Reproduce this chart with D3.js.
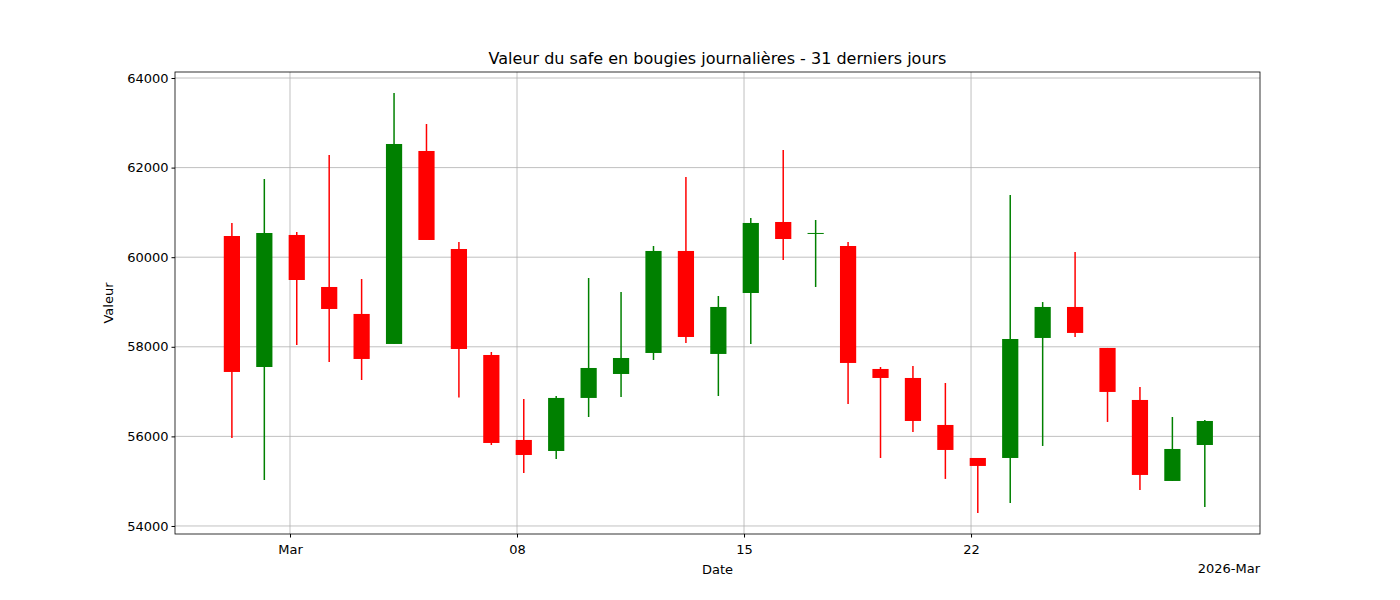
<!DOCTYPE html>
<html><head><meta charset="utf-8">
<script src="https://cdn.jsdelivr.net/npm/d3@7"></script>
<style>body{margin:0;background:#fff}text{font-family:"DejaVu Sans",sans-serif}</style>
</head><body><svg id="c" width="1400" height="600"></svg>
<script>
const days = ["2026-02-27","2026-02-28","2026-03-01","2026-03-02","2026-03-03","2026-03-04","2026-03-05","2026-03-06","2026-03-07","2026-03-08","2026-03-09","2026-03-10","2026-03-11","2026-03-12","2026-03-13","2026-03-14","2026-03-15","2026-03-16","2026-03-17","2026-03-18","2026-03-19","2026-03-20","2026-03-21","2026-03-22","2026-03-23","2026-03-24","2026-03-25","2026-03-26","2026-03-27","2026-03-28","2026-03-29"];
const opens  = [60473,57549,60496,59335,58733,58063,62371,60183,57817,55920,55674,56858,57393,57862,60139,57840,59201,60786,60540,60250,57505,57304,56255,55518,55518,58197,58889,57974,56813,55005,55808];
const highs  = [60764,61746,60563,62281,59513,63665,62973,60339,57884,56835,56902,59536,59223,60250,61790,59134,60875,62393,60830,60339,57549,57572,57192,55518,61389,58999,60116,57974,57103,56433,56366];
const lows   = [55965,55027,58040,57661,57259,58063,60384,56869,55808,55184,55496,56433,56880,57706,58085,56902,58063,59938,59335,56724,55518,56099,55050,54291,54514,55786,58219,56322,54804,55005,54425];
const closes = [57438,60540,59491,58844,57728,62527,60384,57951,55853,55585,56858,57527,57750,60139,58219,58889,60764,60406,60541,57639,57304,56344,55697,55340,58174,58889,58309,56992,55139,55719,56344];
const yTicks = [54000,56000,58000,60000,62000,64000];
const xTickDays = ["2026-03-01","2026-03-08","2026-03-15","2026-03-22"];
const xTickLabels = ["Mar","08","15","22"];

const svg = d3.select("#c");
const L=175,R=1260,T=72,B=534;
const DAY=864e5;
const base=new Date("2026-03-01T00:00:00");
const x=d3.scaleTime().domain([new Date(+base-3.546*DAY), new Date(+base+29.91*DAY)]).range([L,R]);
const y=d3.scaleLinear().domain([53821,64134]).range([B,T]);
const t=d=>new Date(d+"T05:00:00");

const g=svg.append("g");
// grid
xTickDays.forEach(d=>g.append("line").attr("x1",x(new Date(d+"T00:00:00"))).attr("x2",x(new Date(d+"T00:00:00"))).attr("y1",T).attr("y2",B).attr("stroke","#b0b0b0").attr("stroke-width",0.8));
yTicks.forEach(v=>g.append("line").attr("x1",L).attr("x2",R).attr("y1",y(v)).attr("y2",y(v)).attr("stroke","#b0b0b0").attr("stroke-width",0.8));

const data=days.map((d,i)=>({d:t(d),o:opens[i],h:highs[i],l:lows[i],c:closes[i]}));
const w=x(new Date(+base+0.25*DAY))-x(new Date(+base-0.25*DAY));
data.forEach(k=>{
  const col=k.c>=k.o?"#008000":"#ff0000";
  const cx=x(k.d);
  g.append("line").attr("x1",cx).attr("x2",cx).attr("y1",y(k.h)).attr("y2",y(k.l)).attr("stroke",col).attr("stroke-width",1.5);
  const top=y(Math.max(k.o,k.c)),bot=y(Math.min(k.o,k.c));
  g.append("rect").attr("x",cx-w/2).attr("width",w).attr("y",top).attr("height",Math.max(1,bot-top)).attr("fill",col);
});

// axes
const xa=svg.append("g").attr("transform",`translate(0,${B})`).call(d3.axisBottom(x).tickValues(xTickDays.map(d=>new Date(d+"T00:00:00"))).tickFormat((d,i)=>xTickLabels[i]).tickSize(3.5).tickSizeOuter(0));
const ya=svg.append("g").attr("transform",`translate(${L},0)`).call(d3.axisLeft(y).tickValues(yTicks).tickFormat(d3.format("d")).tickSize(3.5).tickSizeOuter(0));
[xa,ya].forEach(a=>{a.select(".domain").remove();a.selectAll("text").attr("font-size",13).attr("fill","#000").style("font-family","DejaVu Sans");});
xa.selectAll("text").attr("dy","1.05em");
svg.append("rect").attr("x",L).attr("y",T).attr("width",R-L).attr("height",B-T).attr("fill","none").attr("stroke","#000").attr("stroke-width",0.8);

svg.append("text").attr("x",(L+R)/2).attr("y",64).attr("text-anchor","middle").attr("font-size",16).text("Valeur du safe en bougies journalières - 31 derniers jours");
svg.append("text").attr("x",(L+R)/2).attr("y",574).attr("text-anchor","middle").attr("font-size",13).text("Date");
svg.append("text").attr("x",R).attr("y",573).attr("text-anchor","end").attr("font-size",13).text("2026-Mar");
svg.append("text").attr("transform","translate(113,303) rotate(-90)").attr("text-anchor","middle").attr("font-size",13).text("Valeur");
</script></body></html>
